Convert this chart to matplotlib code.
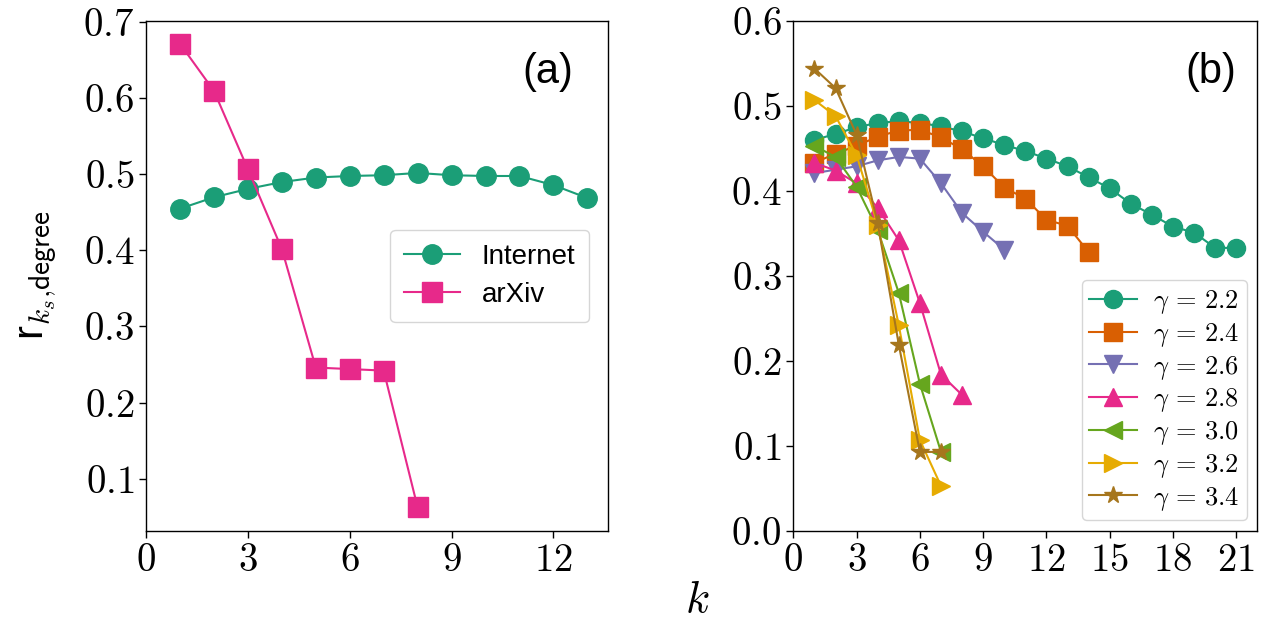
"""Rich-club style correlation r_{k_s,degree} versus k for real and synthetic networks."""

import matplotlib

matplotlib.use("Agg")
import matplotlib.pyplot as plt  # noqa: E402
from matplotlib.ticker import FuncFormatter  # noqa: E402

plt.rcParams["mathtext.fontset"] = "cm"
plt.rcParams["font.family"] = ["Liberation Sans", "DejaVu Sans"]

DARK2 = ["#1b9e77", "#d95f02", "#7570b3", "#e7298a", "#66a61e", "#e6ab02", "#a6761d"]

# panel (a): real networks
internet_k = list(range(1, 14))
internet_r = [0.455, 0.470, 0.481, 0.490, 0.496, 0.498, 0.499, 0.502, 0.499, 0.498, 0.498, 0.486, 0.469]
arxiv_k = list(range(1, 9))
arxiv_r = [0.672, 0.610, 0.507, 0.402, 0.246, 0.244, 0.242, 0.062]

# panel (b): synthetic scale-free networks
gammas = [2.2, 2.4, 2.6, 2.8, 3.0, 3.2, 3.4]
r_gamma_22 = [0.460, 0.467, 0.475, 0.480, 0.482, 0.480, 0.476, 0.470, 0.462, 0.454, 0.447,
              0.438, 0.429, 0.416, 0.403, 0.385, 0.372, 0.358, 0.351, 0.333, 0.333]
r_gamma_24 = [0.433, 0.444, 0.453, 0.464, 0.471, 0.472, 0.463, 0.449, 0.429, 0.404, 0.391,
              0.366, 0.359, 0.328]
r_gamma_26 = [0.421, 0.425, 0.429, 0.436, 0.440, 0.438, 0.409, 0.374, 0.352, 0.331]
r_gamma_28 = [0.433, 0.424, 0.409, 0.380, 0.342, 0.268, 0.184, 0.160]
r_gamma_30 = [0.453, 0.440, 0.405, 0.354, 0.280, 0.173, 0.093]
r_gamma_32 = [0.507, 0.488, 0.442, 0.360, 0.242, 0.107, 0.053]
r_gamma_34 = [0.544, 0.521, 0.466, 0.362, 0.219, 0.093, 0.093]
synthetic_r = [r_gamma_22, r_gamma_24, r_gamma_26, r_gamma_28, r_gamma_30, r_gamma_32, r_gamma_34]
synthetic_markers = ["o", "s", "v", "^", "<", ">", "*"]

int_fmt = FuncFormatter(lambda v, _: f"${v:.0f}$")
dec_fmt = FuncFormatter(lambda v, _: f"${v:.1f}$")


def style_axes(ax):
    ax.tick_params(direction="out", length=5, width=1, labelsize=28)
    ax.xaxis.set_major_formatter(int_fmt)
    ax.yaxis.set_major_formatter(dec_fmt)
    for spine in ax.spines.values():
        spine.set_linewidth(1.0)


fig = plt.figure(figsize=(12.72, 6.19), dpi=100)
ax_a = fig.add_axes([0.1148, 0.1422, 0.3630, 0.824])
ax_b = fig.add_axes([0.6237, 0.1422, 0.3648, 0.824])

ax_a.plot(internet_k, internet_r, marker="o", ms=14, lw=1.5, color=DARK2[0], label="Internet")
ax_a.plot(arxiv_k, arxiv_r, marker="s", ms=14, lw=1.5, color=DARK2[3], label="arXiv")
ax_a.set_xlim(0, 13.6)
ax_a.set_ylim(0.031, 0.702)
ax_a.set_xticks([0, 3, 6, 9, 12])
ax_a.set_yticks([0.1, 0.2, 0.3, 0.4, 0.5, 0.6, 0.7])
style_axes(ax_a)
ax_a.legend(loc="center right", fontsize=20, handlelength=2.0, borderpad=0.5,
            labelspacing=0.45, bbox_to_anchor=(0.99, 0.5))
ax_a.text(0.87, 0.90, "(a)", transform=ax_a.transAxes, fontsize=30, ha="center", va="center")

for gamma, values, marker, color in zip(gammas, synthetic_r, synthetic_markers, DARK2):
    ks = list(range(1, len(values) + 1))
    ax_b.plot(ks, values, marker=marker, ms=13, lw=1.5, color=color,
              label=rf"$\gamma\,=\,{gamma:.1f}$")
ax_b.set_xlim(0, 22)
ax_b.set_ylim(0, 0.6)
ax_b.set_xticks(list(range(0, 22, 3)))
ax_b.set_yticks([0.0, 0.1, 0.2, 0.3, 0.4, 0.5, 0.6])
style_axes(ax_b)
ax_b.legend(loc="lower right", fontsize=19, handlelength=1.8, labelspacing=0.18,
            borderpad=0.3, handletextpad=0.6, borderaxespad=0.4)
ax_b.text(0.90, 0.90, "(b)", transform=ax_b.transAxes, fontsize=30, ha="center", va="center")

fig.text(0.03, 0.555, r"r$_{k_s{,}\mathsf{degree}}$", rotation=90, fontsize=30,
         ha="center", va="center")
fig.text(0.548, 0.03, r"$k$", fontsize=32, ha="center", va="center")

fig.savefig("out.png", dpi=100)
